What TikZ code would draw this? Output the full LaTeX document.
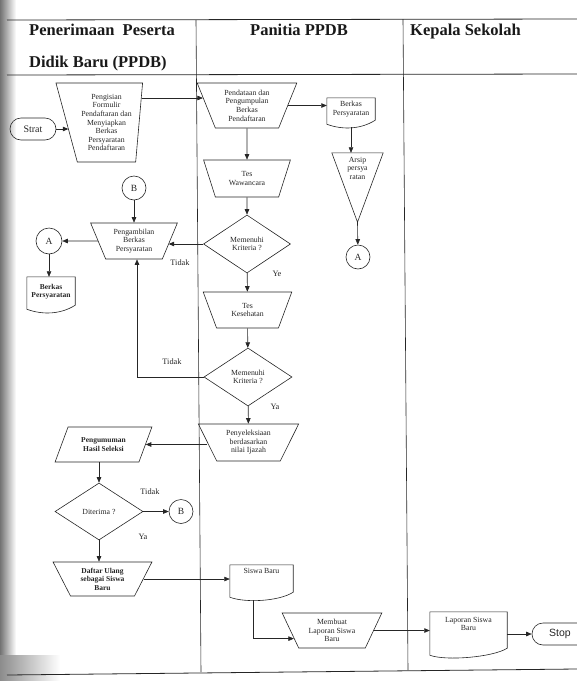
\documentclass[tikz,border=0pt]{standalone}
\usepackage{fontspec}
\setmainfont{Liberation Serif}
\newfontfamily\stopfont{Liberation Sans}
\usetikzlibrary{shapes.geometric,arrows.meta,calc}

% text placed at the top of a box: width, height, top gap, text
\newcommand\toptext[4]{\parbox[c][#2][t]{#1}{\vspace*{#3}\centering #4}}
% document symbol drawn round a named node; #2 = rise of the right end
\newcommand\docframe[2]{%
  \draw[ln] ([yshift=3pt]#1.south west) -- (#1.north west) -- (#1.north east)
    -- ([yshift=#2]#1.south east)
    .. controls +(-14pt,-9pt) and +(16pt,-6pt) .. ([yshift=3pt]#1.south west) -- cycle;}

\begin{document}
\begin{tikzpicture}[x=1pt,y=-1pt,
  ln/.style={draw=black!85,line width=0.6pt},
  arrow/.style={ln,-{Triangle[length=5.5pt,width=4.5pt]}},
  body/.style={font=\fontsize{7.8}{8.6}\selectfont,align=center,text=black!85},
  boldbody/.style={font=\fontsize{7.5}{8.6}\selectfont\bfseries,align=center,text=black!85},
  trap/.style={ln,trapezium,trapezium stretches=true,shape border rotate=180,
    inner sep=0pt,trapezium angle=#1},
  decision/.style={body,ln,diamond,aspect=1.5,inner sep=0pt,
    minimum width=87pt,minimum height=58pt},
  io/.style={ln,trapezium,trapezium stretches=true,inner sep=0pt,
    trapezium left angle=59,trapezium right angle=121},
  docbox/.style={inner sep=3pt},
  conn/.style={ln,circle,inner sep=0pt,minimum size=24pt,
    font=\fontsize{9.5}{11}\selectfont,text=black!85},
  term/.style={ln,rectangle,rounded corners=11pt,inner sep=0pt,
    minimum height=22pt,text=black!85},
  lbl/.style={font=\fontsize{8.3}{10}\selectfont,text=black!85,inner sep=0pt},
  hdr/.style={font=\fontsize{16.5}{18}\selectfont\bfseries,text=black!90,
    inner sep=0pt,anchor=base west}]

\useasboundingbox (0,0) rectangle (577,681);
\clip (0,0) rectangle (577,681);

% shadow along the bound edge of the page
\shade[left color=black!55,right color=white] (0,0) rectangle (16,681);
\shade[left color=black!45,right color=white] (0,655) rectangle (60,681);

% swimlane frame
\draw[ln,line width=0.8pt] (7,20) -- (577,19);
\draw[ln,line width=0.8pt] (7,75) -- (577,74);
\draw[ln,line width=0.8pt] (7,675) -- (577,669);
\draw[ln] (196,20) -- (201,672);
\draw[ln] (403,19) -- (408,670);

% lane headings
\node[hdr] (hdrA) at (29,35) {Penerimaan\ \ Peserta};
\node[hdr] (hdrB) at (29,67) {Didik Baru (PPDB)};
\node[hdr] (hdrC) at (250,35) {Panitia PPDB};
\node[hdr] (hdrD) at (410,35) {Kepala Sekolah};

% lane 1 and 2 steps
\node[term,minimum width=46pt,font=\fontsize{10}{12}\selectfont] (start) at (33,129) {Strat};
\node[trap=76,body,minimum width=87pt,minimum height=79pt,
  trapezium left angle=84,trapezium right angle=72] (isian) at (106.5,122.5)
  {Pengisian\\Formulir\\Pendaftaran dan\\Menyiapkan\\Berkas\\Persyaratan\\Pendaftaran};
\node[trap=67.5,body,minimum width=100pt,minimum height=45pt] (data) at (247,105.5)
  {Pendataan dan\\Pengumpulan\\Berkas\\Pendaftaran};
\node[docbox,body] (berkasB) at (351,112.5) {\toptext{42pt}{23pt}{0pt}{Berkas\\Persyaratan}};
\node[docbox,body] (arsip) at (357.5,187.5) {\toptext{45pt}{63pt}{1pt}{Arsip\\persya\\ratan}};
\node[conn] (aB) at (358,257) {A};
\node[trap=64,body,minimum width=87pt,minimum height=37pt] (wawancara) at (247,178.5)
  {Tes\\Wawancara};
\node[decision] (krit1) at (247,244) {Memenuhi\\Kriteria ?};
\node[trap=66,body,minimum width=87pt,minimum height=36pt] (ambil) at (134,241)
  {Pengambilan\\Berkas\\Persyaratan};
\node[conn] (bA) at (134,188) {B};
\node[conn,minimum size=26pt] (aA) at (49,241) {A};
\node[docbox,boldbody] (berkasA) at (51,294.5) {\toptext{42pt}{29pt}{4pt}{Berkas\\Persyaratan}};
\node[trap=63,body,minimum width=89pt,minimum height=36pt] (kesehatan) at (247.5,310)
  {Tes\\Kesehatan};
\node[decision,minimum width=88pt] (krit2) at (248,377) {Memenuhi\\Kriteria ?};
\node[trap=62,body,minimum width=101pt,minimum height=37pt] (seleksi) at (248.5,442.5)
  {Penyeleksiaan\\berdasarkan\\nilai Ijazah};
\node[io,boldbody,minimum width=97pt,minimum height=35pt] (umum) at (103.5,444.5)
  {Pengumuman\\Hasil Seleksi};
\node[decision,minimum width=88pt,minimum height=57pt] (terima) at (99,511.5) {Diterima ?};
\node[conn] (bB) at (181,511.5) {B};
\node[trap=62,boldbody,minimum width=99pt,minimum height=34pt] (daftar) at (102.5,579)
  {Daftar Ulang\\sebagai Siswa\\Baru};
\node[docbox,body] (siswa) at (261.5,582.5) {\toptext{57pt}{29pt}{0pt}{Siswa Baru}};
\node[trap=63,body,minimum width=100pt,minimum height=35pt] (membuat) at (332,630.5)
  {Membuat\\Laporan Siswa\\Baru};

% lane 3
\node[docbox,body] (laporan) at (468.5,635) {\toptext{71pt}{40pt}{2pt}{Laporan Siswa\\Baru}};
\node[term,minimum width=56pt,font=\stopfont\fontsize{10.5}{12}\selectfont] (stop) at (560,634) {Stop};

% outlines of documents and archive
\docframe{berkasB}{7pt}
\docframe{berkasA}{7pt}
\docframe{siswa}{8pt}
\docframe{laporan}{10pt}
\draw[ln] (arsip.north west) -- (arsip.north east) -- (arsip.south) -- cycle;

% branch labels
\node[lbl] (tidak1) at (180,263) {Tidak};
\node[lbl] (ye1) at (277,274) {Ye};
\node[lbl] (tidak2) at (172,362) {Tidak};
\node[lbl] (ya1) at (275,407) {Ya};
\node[lbl] (tidak3) at (150,492) {Tidak};
\node[lbl] (ya2) at (143,537) {Ya};

% flow
\coordinate (r1) at (0,98);
\draw[arrow] (start.east) -- ($(start.east -| isian.180)+(2pt,0)$);
\draw[arrow] ($(isian.0 |- r1)+(2.5pt,0)$) -- ($(data.180 |- r1)+(-3pt,0)$);
\draw[arrow] (data.0) -- (data.0 -| berkasB.west);
\draw[arrow] (berkasB.south) -- (berkasB.south |- arsip.north);
\draw[arrow] (arsip.south) -- (aB);
\draw[arrow] (data) -- (wawancara);
\draw[arrow] (wawancara) -- (krit1);
\draw[arrow] (krit1.west) -- ($(krit1.west -| ambil.0)+(-1.5pt,0)$);
\draw[arrow] (bA) -- (ambil);
\draw[arrow] (ambil) -- (aA);
\draw[arrow] (aA) -- (aA |- berkasA.north);
\draw[arrow] (krit1) -- (kesehatan);
\draw[arrow] (kesehatan) -- (krit2);
\draw[arrow] (krit2.west) -| ($(ambil.270)+(3pt,0)$);
\draw[arrow] (krit2) -- (seleksi);
\draw[arrow] (seleksi.180 |- umum.0) -- (umum.0);
\draw[arrow] (terima.north |- umum.south) -- (terima.north);
\draw[arrow] (terima.east) -- (bB);
\draw[arrow] (terima.south) -- (terima.south |- daftar.90);
\draw[arrow] (daftar.0) -- (daftar.0 -| siswa.west);
\draw[arrow] ($(siswa.south)+(-8pt,0)$) |- (membuat.192);
\draw[arrow] (membuat.0) -- (membuat.0 -| laporan.west);
\draw[arrow] (stop.west -| laporan.east) -- (stop.west);
\end{tikzpicture}
\end{document}
